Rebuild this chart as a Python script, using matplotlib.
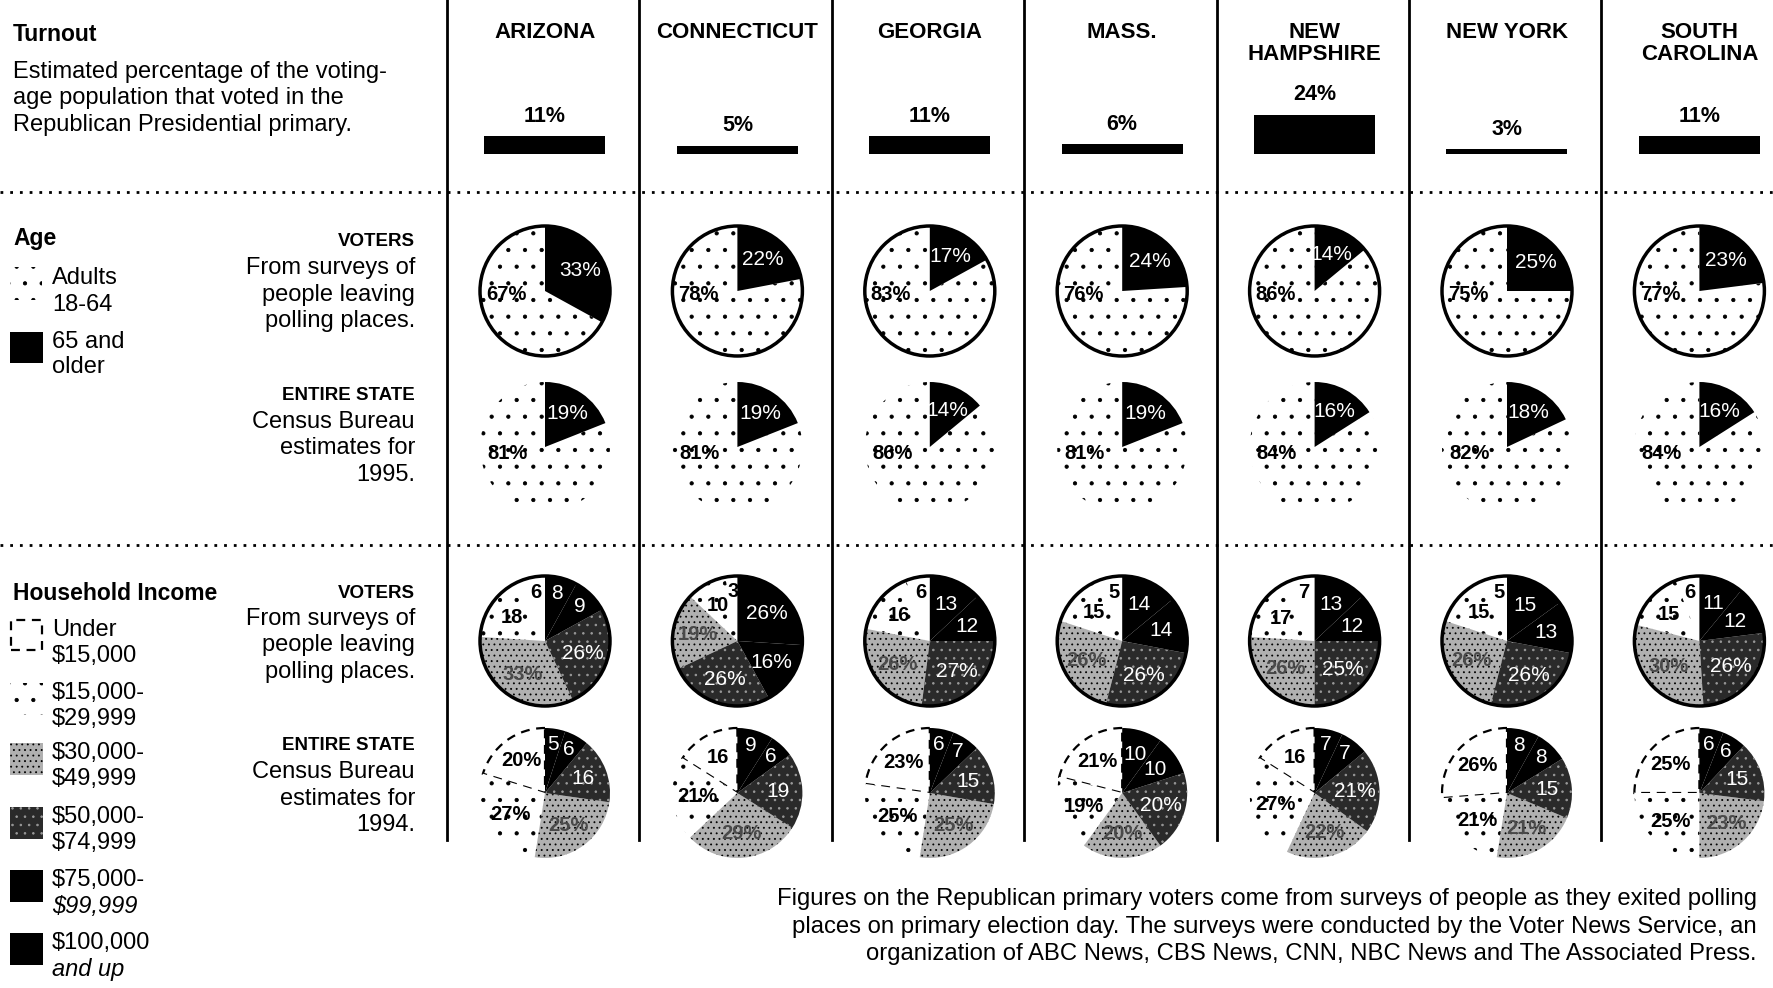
import numpy as np
import matplotlib.pyplot as plt
from matplotlib.patches import Rectangle, Circle

plt.rcParams['font.family'] = ['Liberation Sans', 'DejaVu Sans']
plt.rcParams['hatch.linewidth'] = 0.6

W, H = 1774, 988

# ---- data ----
states = ['ARIZONA', 'CONNECTICUT', 'GEORGIA', 'MASS.', 'NEW\nHAMPSHIRE',
          'NEW YORK', 'SOUTH\nCAROLINA']
turnout = [11, 5, 11, 6, 24, 3, 11]

# age: adults 18-64 / 65 and older
age_voters_young = [67, 78, 83, 76, 86, 75, 77]
age_voters_old = [33, 22, 17, 24, 14, 25, 23]
age_state_young = [81, 81, 86, 81, 84, 82, 84]
age_state_old = [19, 19, 14, 19, 16, 18, 16]

# household income, legend order:
# under 15k, 15-29k, 30-49k, 50-74k, 75-99k, 100k+
income_labels = ['Under\n$15,000', '$15,000-\n$29,999', '$30,000-\n$49,999',
                 '$50,000-\n$74,999', '$75,000-\n$99,999', '$100,000\nand up']
inc_voters = [[6, 18, 33, 26, 9, 8],
              [3, 10, 19, 26, 16, 26],
              [6, 16, 26, 27, 12, 13],
              [5, 15, 26, 26, 14, 14],
              [7, 17, 26, 25, 12, 13],
              [5, 15, 26, 26, 13, 15],
              [6, 15, 30, 26, 12, 11]]
inc_state = [[20, 27, 25, 16, 6, 5],
             [16, 21, 29, 19, 6, 9],
             [23, 25, 25, 15, 7, 6],
             [21, 19, 20, 20, 10, 10],
             [16, 27, 22, 21, 7, 7],
             [26, 21, 21, 15, 8, 8],
             [25, 25, 23, 15, 6, 6]]
# which slices carry a "%" sign in the printed labels
pct_voters = [[2, 3], [2, 3, 4, 5], [2, 3], [2, 3], [2, 3], [2, 3], [2, 3]]
pct_state = [[0, 1, 2], [1, 2], [0, 1, 2], [0, 1, 2, 3], [1, 2, 3], [0, 1, 2], [0, 1, 2]]

footnote = ["Figures on the Republican primary voters come from surveys of people as they exited polling",
            "places on primary election day. The surveys were conducted by the Voter News Service, an",
            "organization of ABC News, CBS News, CNN, NBC News and The Associated Press."]

# ---- styles ----
inc_face = ['white', 'white', '#b0b0b0', '#2a2a2a', 'black', 'black']
inc_hatch = [None, '.', '...', '..', None, None]
inc_edge = ['black', 'black', 'black', '#9a9a9a', 'black', 'black']
inc_txt = ['black', 'black', '#4a4a4a', 'white', 'white', 'white']

col_left = [447 + 192.4 * i for i in range(7)]
col_x = [c + 98 for c in col_left]
R = 65


def Y(y):
    return H - y


fig = plt.figure(figsize=(W / 100, H / 100), dpi=100)
ax = fig.add_axes([0, 0, 1, 1])


def txt(x, y, s, **kw):
    kw.setdefault('va', 'center')
    kw.setdefault('fontsize', 17)
    ax.text(x, Y(y), s, **kw)


def draw_pie(vals, cx, cy, styles, outline):
    faces, hatches, edges = styles
    wedges, _ = ax.pie(vals, center=(cx, Y(cy)), radius=R, startangle=90,
                       counterclock=True, colors=faces, hatch=hatches,
                       wedgeprops=dict(linewidth=0), frame=True)
    for w, e in zip(wedges, edges):
        w.set_edgecolor(e)
        w.set_linewidth(0)
    if outline:
        ax.add_patch(Circle((cx, Y(cy)), R, fill=False, lw=2.5, ec='black', zorder=3))
    return wedges


def at_mid(w, cx, cy, f):
    a = np.deg2rad((w.theta1 + w.theta2) / 2)
    return cx + f * R * np.cos(a), Y(cy) + f * R * np.sin(a)


# ---- grid lines ----
for xl in col_left:
    ax.plot([xl, xl], [Y(0), Y(840)], color='black', lw=2)
for yl in (192, 545):
    ax.plot([0, W], [Y(yl), Y(yl)], color='black', lw=2, ls=(0, (1, 2.5)))

# ---- header: states and turnout bars ----
bar_h = [t * 1.63 for t in turnout]
ax.bar(col_x, bar_h, width=121, bottom=Y(154), color='black')
for i, s in enumerate(states):
    ax.text(col_x[i], Y(22), s, ha='center', va='top', fontsize=16,
            fontweight='bold', linespacing=1.05)
    txt(col_x[i], 154 - bar_h[i] - 20, f'{turnout[i]}%', ha='center', fontsize=15.5,
        fontweight='bold')

# ---- age pies ----
for i in range(7):
    cx = col_x[i]
    w = draw_pie([age_voters_young[i], age_voters_old[i]], cx, 291,
                 (['white', 'black'], ['.', None], ['black', 'black']), True)
    ax.text(cx - 0.6 * R, Y(291) - 0.06 * R, f'{age_voters_young[i]}%', ha='center',
            va='center', fontsize=14.5, fontweight='bold')
    x, y = at_mid(w[1], cx, 291, 0.62)
    ax.text(x, y, f'{age_voters_old[i]}%', ha='center', va='center', fontsize=15,
            color='white')

    w = draw_pie([age_state_young[i], age_state_old[i]], cx, 447,
                 (['none', 'black'], ['.', None], ['black', 'black']), False)
    ax.text(cx - 0.58 * R, Y(447) - 0.1 * R, f'{age_state_young[i]}%', ha='center',
            va='center', fontsize=14.5, fontweight='bold')
    x, y = at_mid(w[1], cx, 447, 0.62)
    ax.text(x, y, f'{age_state_old[i]}%', ha='center', va='center', fontsize=15,
            color='white')

# ---- income pies ----
for i in range(7):
    cx = col_x[i]
    for vals, cy, pct, outline in ((inc_voters[i], 641, pct_voters[i], True),
                                   (inc_state[i], 793, pct_state[i], False)):
        w = draw_pie(vals, cx, cy, (inc_face, inc_hatch, inc_edge), outline)
        if not outline:
            w[0].set_linestyle((0, (4, 3)))
            w[0].set_linewidth(1.6)
            w[0].set_edgecolor('black')
        for k, v in enumerate(vals):
            f = 0.76 if v < 10 else 0.62
            x, y = at_mid(w[k], cx, cy, f)
            s = f'{v}%' if k in pct else f'{v}'
            bold = k < 3
            ax.text(x, y, s, ha='center', va='center', fontsize=14.5 if bold else 15,
                    color=inc_txt[k], fontweight='bold' if bold else 'normal', zorder=4)

# ---- left panel ----
txt(13, 35, 'Turnout', fontsize=16.5, fontweight='bold')
for y, s in zip((72, 98, 125), ('Estimated percentage of the voting-',
                                 'age population that voted in the',
                                 'Republican Presidential primary.')):
    txt(13, y, s)

txt(13, 238, 'Age', fontsize=16.5, fontweight='bold')
ax.add_patch(Rectangle((10, Y(300)), 32, 33, facecolor='none', hatch='.',
                       edgecolor='black', lw=0))
txt(52, 278, 'Adults')
txt(52, 305, '18-64')
ax.add_patch(Rectangle((10, Y(363)), 33, 31, facecolor='black', lw=0))
txt(52, 342, '65 and')
txt(52, 367, 'older')

for (y0, notes) in ((242, ['From surveys of', 'people leaving', 'polling places.']),
                    (593, ['From surveys of', 'people leaving', 'polling places.'])):
    txt(415, y0, 'VOTERS', ha='right', fontsize=13.5, fontweight='bold')
    for j, s in enumerate(notes):
        txt(415, y0 + 26 + 26.5 * j, s, ha='right')
for (y0, yr) in ((395, '1995.'), (745, '1994.')):
    txt(415, y0, 'ENTIRE STATE', ha='right', fontsize=13.5, fontweight='bold')
    for j, s in enumerate(['Census Bureau', 'estimates for', yr]):
        txt(415, y0 + 27 + 26.5 * j, s, ha='right')

txt(13, 593, 'Household Income', fontsize=16.5, fontweight='bold')
leg_top = [620, 683, 743, 807, 870, 933]
for k, lab in enumerate(income_labels):
    y0 = leg_top[k]
    if k == 0:
        ax.add_patch(Rectangle((11, Y(y0 + 30)), 31, 30, facecolor='white',
                               edgecolor='black', lw=1.6, ls=(0, (4, 3))))
    else:
        ax.add_patch(Rectangle((10, Y(y0 + 32)), 33, 32, facecolor=inc_face[k],
                               hatch=inc_hatch[k], edgecolor=inc_edge[k], lw=0))
    l1, l2 = lab.split('\n')
    txt(52, y0 + 10, l1)
    txt(52, y0 + 36, l2, style='italic' if k >= 4 else 'normal')

for j, s in enumerate(footnote):
    txt(1757, 899 + 27.5 * j, s, ha='right', fontsize=17.2)

ax.set_xlim(0, W)
ax.set_ylim(0, H)
ax.set_aspect('auto')
ax.axis('off')
fig.savefig('out.png', dpi=100)
